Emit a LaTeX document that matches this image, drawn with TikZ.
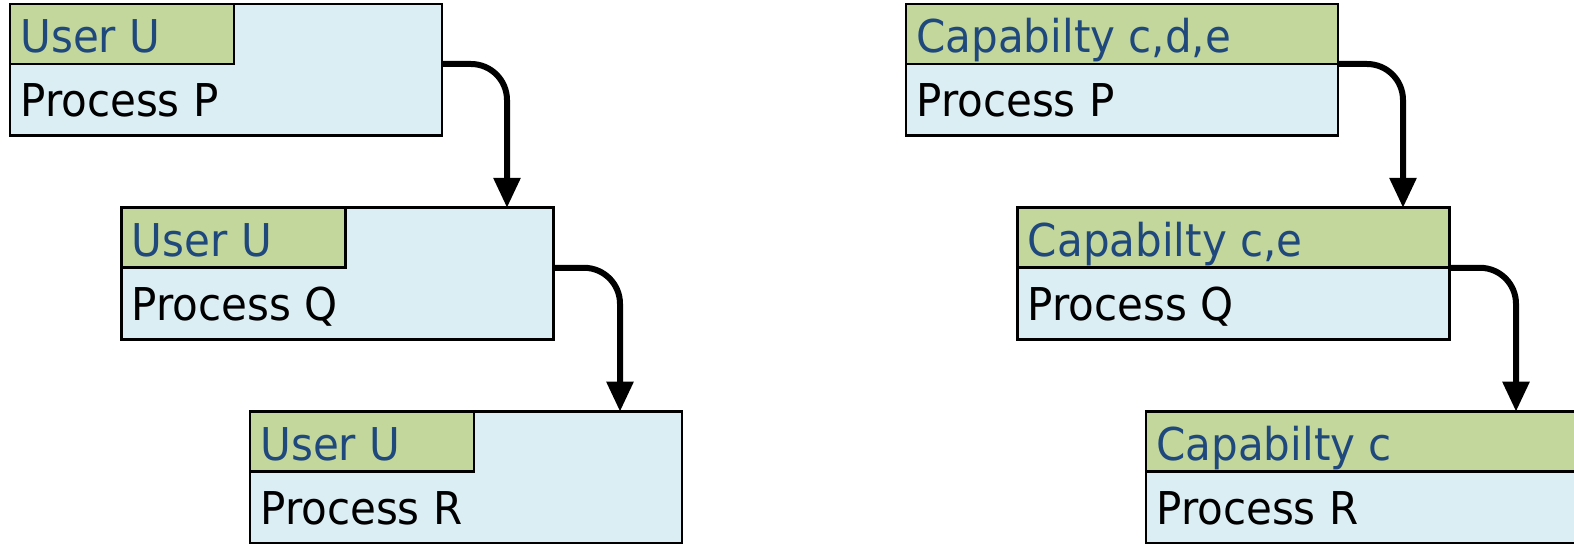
\documentclass[tikz,border=0pt]{standalone}
\usepackage{fontspec}
\setmainfont[FakeStretch=0.93]{DejaVu Sans}
\usetikzlibrary{arrows.meta,calc}
\definecolor{hdrfill}{HTML}{C3D69B}
\definecolor{procfill}{HTML}{DBEEF4}
\definecolor{hdrtext}{HTML}{1F497D}
\newcommand\procbox[6]{%
  \node[box] (#1) at (#2,#3) {};
  \node[hdr,minimum width=#4] (#1h) at (#1.north west) {};
  \node[htxt] (#1t) at ($(#1.north west)+(10,49)$) {#5};
  \node[ptxt] (#1p) at ($(#1.north west)+(10,112.5)$) {#6};
}
\begin{document}
\begin{tikzpicture}[x=0.5pt,y=-0.5pt,
  box/.style={draw=black,line width=1.3pt,fill=procfill,minimum width=216pt,minimum height=65.75pt,anchor=north west,inner sep=0pt,outer sep=0pt},
  hdr/.style={draw=black,line width=1.3pt,fill=hdrfill,minimum height=30pt,anchor=north west,inner sep=0pt,outer sep=0pt},
  htxt/.style={anchor=base west,inner sep=0pt,text=hdrtext,font=\fontsize{22.6pt}{27pt}\selectfont},
  ptxt/.style={anchor=base west,inner sep=0pt,text=black,font=\fontsize{22.6pt}{27pt}\selectfont},
  arr/.style={line width=3pt,rounded corners=18pt,-{Triangle[width=13pt,length=15pt]}}
]
\useasboundingbox (0,0) rectangle (1574,544);
\procbox{lA}{10}{4}{112pt}{User U}{Process P}
\procbox{lB}{121.5}{207.8}{112pt}{User U}{Process Q}
\procbox{lC}{250}{411.6}{112pt}{User U}{Process R}
\procbox{rA}{906}{4}{216pt}{Capabilty c,d,e}{Process P}
\procbox{rB}{1017.5}{207.8}{216pt}{Capabilty c,e}{Process Q}
\procbox{rC}{1146}{411.6}{216pt}{Capabilty c}{Process R}
\coordinate (tB) at ($(lB.north east)+(-46.5,0)$);
\coordinate (tC) at ($(lC.north east)+(-62,0)$);
\coordinate (uB) at ($(rB.north east)+(-46.5,0)$);
\coordinate (uC) at ($(rC.north east)+(-62,0)$);
\draw[arr] (lA.east |- lAh.south) -| (tB);
\draw[arr] (lB.east |- lBh.south) -| (tC);
\draw[arr] (rA.east |- rAh.south) -| (uB);
\draw[arr] (rB.east |- rBh.south) -| (uC);
\end{tikzpicture}
\end{document}
